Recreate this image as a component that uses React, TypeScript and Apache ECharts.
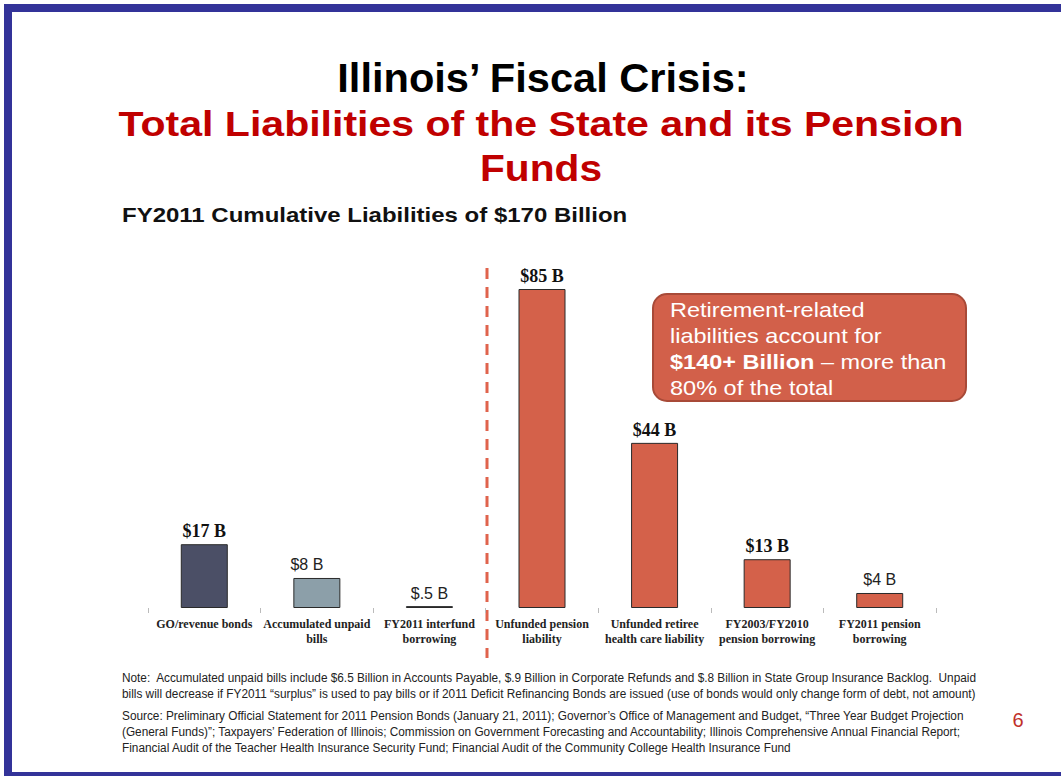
import React, { useEffect, useRef } from "react";
import * as echarts from "echarts";

const categories = [
  "GO/revenue bonds",
  "Accumulated unpaid\nbills",
  "FY2011 interfund\nborrowing",
  "Unfunded pension\nliability",
  "Unfunded retiree\nhealth care liability",
  "FY2003/FY2010\npension borrowing",
  "FY2011 pension\nborrowing",
];
const values = [17, 8, 0.5, 85, 44, 13, 4];
const valueLabels = ["$17 B", "$8 B", "$.5 B", "$85 B", "$44 B", "$13 B", "$4 B"];
const serifLabel = [true, false, false, true, true, true, false];
const barColors = ["#4b4f66", "#8c9fa9", "#8c9fa9", "#d4614a", "#d4614a", "#d4614a", "#d4614a"];

const noteLines = [
  "Note:  Accumulated unpaid bills include $6.5 Billion in Accounts Payable, $.9 Billion in Corporate Refunds and $.8 Billion in State Group Insurance Backlog.  Unpaid",
  "bills will decrease if FY2011 \u201csurplus\u201d is used to pay bills or if 2011 Deficit Refinancing Bonds are issued (use of bonds would only change form of debt, not amount)",
];
const sourceLines = [
  "Source: Preliminary Official Statement for 2011 Pension Bonds (January 21, 2011); Governor\u2019s Office of Management and Budget, \u201cThree Year Budget Projection",
  "(General Funds)\u201d; Taxpayers\u2019 Federation of Illinois; Commission on Government Forecasting and Accountability; Illinois Comprehensive Annual Financial Report;",
  "Financial Audit of the Teacher Health Insurance Security Fund; Financial Audit of the Community College Health Insurance Fund",
];

const SANS = "'Liberation Sans', Arial, sans-serif";
const SERIF = "'Liberation Serif', 'Times New Roman', serif";

export default function App() {
  const ref = useRef<HTMLDivElement>(null);
  useEffect(() => {
    if (!ref.current) return;
    const chart = echarts.init(ref.current, null, { renderer: "svg" });
    const data = values.map((v, i) => ({
      value: v,
      itemStyle: { color: barColors[i], borderColor: "#2a2a2a", borderWidth: 1 },
      label: serifLabel[i]
        ? { fontFamily: SERIF, fontWeight: "bold", fontSize: 18, color: "#111", distance: 4 }
        : { fontFamily: SANS, fontWeight: "normal", fontSize: 16, color: "#222", distance: 5, offset: i === 1 ? [-10, 0] : [0, 0] },
    }));
    const graphics: any[] = [
      { type: "rect", shape: { x: 4, y: 4, width: 1057, height: 8 }, style: { fill: "#333399" } },
      { type: "rect", shape: { x: 4, y: 4, width: 8, height: 772 }, style: { fill: "#333399" } },
      { type: "rect", shape: { x: 4, y: 772, width: 1057, height: 4 }, style: { fill: "#333399" } },
      {
        type: "text", x: 543, y: 78, scaleX: 1.04,
        style: { text: "Illinois\u2019 Fiscal Crisis:", fill: "#000", font: `bold 40px ${SANS}`, align: "center", verticalAlign: "middle" },
      },
      {
        type: "text", x: 541, y: 123, scaleX: 1.14,
        style: { text: "Total Liabilities of the State and its Pension", fill: "#c00000", font: `bold 36px ${SANS}`, align: "center", verticalAlign: "middle" },
      },
      {
        type: "text", x: 541, y: 168, scaleX: 1.13,
        style: { text: "Funds", fill: "#c00000", font: `bold 36px ${SANS}`, align: "center", verticalAlign: "middle" },
      },
      {
        type: "text", x: 122, y: 215, scaleX: 1.2,
        style: { text: "FY2011 Cumulative Liabilities of $170 Billion", fill: "#111", font: `bold 20px ${SANS}`, align: "left", verticalAlign: "middle" },
      },
      {
        type: "line", shape: { x1: 487, y1: 268, x2: 487, y2: 658 },
        style: { stroke: "#e0634c", lineWidth: 3, lineDash: [11, 8] },
      },
      {
        type: "rect", shape: { x: 653, y: 294, width: 313, height: 107, r: 14 },
        style: { fill: "#d2604a", stroke: "#a84a38", lineWidth: 2 },
      },
      {
        type: "text", x: 670, y: 297, scaleX: 1.12,
        style: {
          text: "{n|Retirement-related}\n{n|liabilities account for}\n{b|$140+ Billion}{n| \u2013 more than}\n{n|80% of the total}",
          rich: {
            n: { fill: "#fff", fontFamily: SANS, fontSize: 21, lineHeight: 26 },
            b: { fill: "#fff", fontFamily: SANS, fontSize: 21, fontWeight: "bold", lineHeight: 26 },
          },
          align: "left", verticalAlign: "top",
        },
      },
      {
        type: "text", x: 122, y: 670, scaleX: 0.945,
        style: { text: noteLines.join("\n"), fill: "#222", font: `12.5px ${SANS}`, lineHeight: 16, align: "left", verticalAlign: "top" },
      },
      {
        type: "text", x: 122, y: 708, scaleX: 0.945,
        style: { text: sourceLines.join("\n"), fill: "#222", font: `12.5px ${SANS}`, lineHeight: 16, align: "left", verticalAlign: "top" },
      },
      {
        type: "text", x: 1018, y: 720,
        style: { text: "6", fill: "#c0302a", font: `20px ${SANS}`, align: "center", verticalAlign: "middle" },
      },
    ];
    chart.setOption({
      animation: false,
      backgroundColor: "#ffffff",
      grid: { left: 148, right: 125, top: 289, bottom: 168, containLabel: false },
      xAxis: {
        type: "category",
        data: categories,
        axisLine: { show: false },
        axisTick: { show: true, length: 5, lineStyle: { color: "#bbbbbb", width: 1 } },
        axisLabel: {
          interval: 0,
          margin: 8,
          fontFamily: SERIF,
          fontWeight: "bold",
          fontSize: 12,
          lineHeight: 15,
          color: "#222",
        },
        splitLine: { show: false },
      },
      yAxis: { type: "value", min: 0, max: 85, show: false, splitLine: { show: false } },
      series: [
        {
          type: "bar",
          data,
          barWidth: 47,
          label: {
            show: true,
            position: "top",
            formatter: (p: any) => valueLabels[p.dataIndex],
          },
        },
      ],
      graphic: graphics,
    });
    return () => chart.dispose();
  }, []);
  return <div ref={ref} style={{ width: 1061, height: 776, position: "absolute", left: 0, top: 0 }} />;
}
